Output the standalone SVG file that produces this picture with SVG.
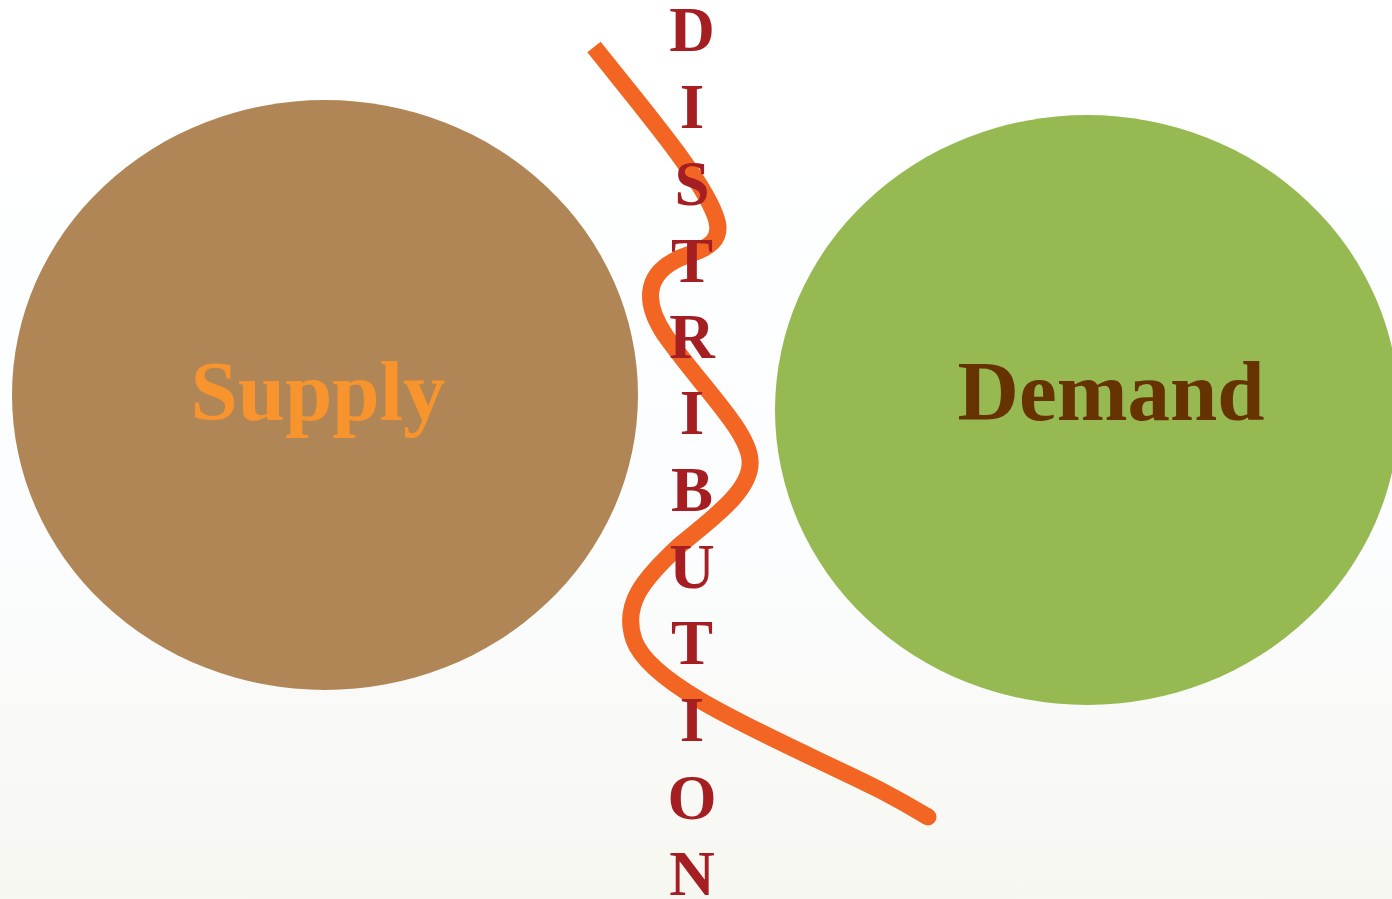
<svg xmlns="http://www.w3.org/2000/svg" width="1392" height="899" viewBox="0 0 1392 899">
<defs>
<linearGradient id="bg" x1="0" y1="0" x2="0" y2="1">
<stop offset="0" stop-color="#ffffff"/>
<stop offset="0.6" stop-color="#fbfdfe"/>
<stop offset="1" stop-color="#f7f7f1"/>
</linearGradient>
<style>
.letter{font-family:"Liberation Serif","Times New Roman",serif;font-weight:bold;font-size:63px;fill:#A51E22;text-anchor:middle}
.big{font-family:"Liberation Serif","Times New Roman",serif;font-weight:bold;font-size:85px;text-anchor:middle}
.wave{fill:none;stroke:#F26522;stroke-width:17;stroke-linecap:butt;stroke-linejoin:round}
</style>
</defs>
<rect width="1392" height="899" fill="url(#bg)"/>
<g id="supply">
<ellipse cx="325" cy="395" rx="313" ry="295" fill="#B08656"/>
<text class="big" x="318" y="420" fill="#F7942E">Supply</text>
</g>
<g id="demand">
<ellipse cx="1087" cy="410" rx="312" ry="295" fill="#96B952"/>
<text class="big" x="1111" y="420" fill="#663300">Demand</text>
</g>
<g id="connectors">
<path class="wave" d="M 594 47 C 640 105, 700 175, 715 215 C 727 245, 700 250, 680 258 C 642 275, 645 305, 665 335 C 700 385, 748 430, 750 460 C 753 490, 710 520, 680 545 C 642 580, 622 605, 634 640 C 652 690, 780 740, 880 790 C 905 803, 918 811, 928 817"/>
<circle cx="928" cy="817" r="8.5" fill="#F26522"/>
</g>
<g id="distribution">
<text class="letter" x="692" y="51">D</text>
<text class="letter" x="692" y="128">I</text>
<text class="letter" x="692" y="205">S</text>
<text class="letter" x="692" y="282">T</text>
<text class="letter" x="692" y="358">R</text>
<text class="letter" x="692" y="434">I</text>
<text class="letter" x="692" y="511">B</text>
<text class="letter" x="692" y="588">U</text>
<text class="letter" x="692" y="664">T</text>
<text class="letter" x="692" y="741">I</text>
<text class="letter" x="692" y="819">O</text>
<text class="letter" x="692" y="895">N</text>
</g>
</svg>
